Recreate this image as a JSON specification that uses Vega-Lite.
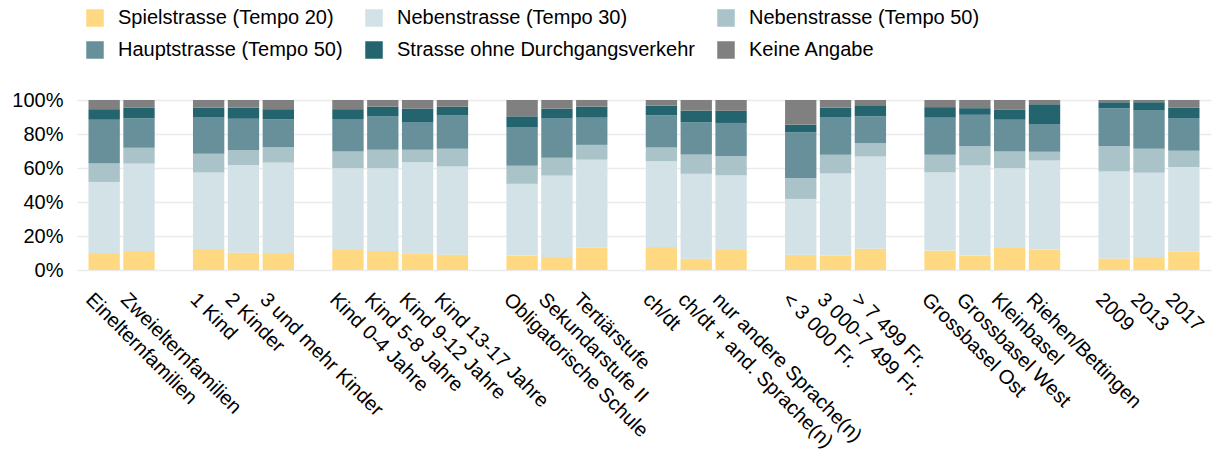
{
  "$schema": "https://vega.github.io/schema/vega-lite/v6.json",
  "autosize": {"type": "none"},
  "width": 1134,
  "height": 170,
  "padding": {"left": 77, "top": 100, "right": 6, "bottom": 194},
  "background": "white",
  "config": {
    "font": "Liberation Sans",
    "view": {"stroke": null}
  },
  "data": {
    "values": [
      {"k": "Einelternfamilien", "Spielstrasse (Tempo 20)": 10.0, "Nebenstrasse (Tempo 30)": 41.8, "Nebenstrasse (Tempo 50)": 10.8, "Hauptstrasse (Tempo 50)": 25.8, "Strasse ohne Durchgangsverkehr": 6.2, "Keine Angabe": 5.4},
      {"k": "Zweielternfamilien", "Spielstrasse (Tempo 20)": 11.2, "Nebenstrasse (Tempo 30)": 51.4, "Nebenstrasse (Tempo 50)": 9.3, "Hauptstrasse (Tempo 50)": 17.3, "Strasse ohne Durchgangsverkehr": 6.2, "Keine Angabe": 4.6},
      {"k": "1 Kind", "Spielstrasse (Tempo 20)": 12.3, "Nebenstrasse (Tempo 30)": 45.1, "Nebenstrasse (Tempo 50)": 11.0, "Hauptstrasse (Tempo 50)": 21.6, "Strasse ohne Durchgangsverkehr": 5.4, "Keine Angabe": 4.6},
      {"k": "2 Kinder", "Spielstrasse (Tempo 20)": 10.2, "Nebenstrasse (Tempo 30)": 51.5, "Nebenstrasse (Tempo 50)": 8.8, "Hauptstrasse (Tempo 50)": 18.5, "Strasse ohne Durchgangsverkehr": 6.4, "Keine Angabe": 4.6},
      {"k": "3 und mehr Kinder", "Spielstrasse (Tempo 20)": 10.0, "Nebenstrasse (Tempo 30)": 53.2, "Nebenstrasse (Tempo 50)": 9.1, "Hauptstrasse (Tempo 50)": 16.3, "Strasse ohne Durchgangsverkehr": 6.0, "Keine Angabe": 5.4},
      {"k": "Kind 0-4 Jahre", "Spielstrasse (Tempo 20)": 12.3, "Nebenstrasse (Tempo 30)": 47.6, "Nebenstrasse (Tempo 50)": 9.8, "Hauptstrasse (Tempo 50)": 19.1, "Strasse ohne Durchgangsverkehr": 5.8, "Keine Angabe": 5.4},
      {"k": "Kind 5-8 Jahre", "Spielstrasse (Tempo 20)": 11.2, "Nebenstrasse (Tempo 30)": 48.7, "Nebenstrasse (Tempo 50)": 10.8, "Hauptstrasse (Tempo 50)": 19.7, "Strasse ohne Durchgangsverkehr": 5.7, "Keine Angabe": 3.9},
      {"k": "Kind 9-12 Jahre", "Spielstrasse (Tempo 20)": 9.8, "Nebenstrasse (Tempo 30)": 53.6, "Nebenstrasse (Tempo 50)": 7.3, "Hauptstrasse (Tempo 50)": 16.4, "Strasse ohne Durchgangsverkehr": 7.9, "Keine Angabe": 5.0},
      {"k": "Kind 13-17 Jahre", "Spielstrasse (Tempo 20)": 8.9, "Nebenstrasse (Tempo 30)": 52.0, "Nebenstrasse (Tempo 50)": 10.4, "Hauptstrasse (Tempo 50)": 19.6, "Strasse ohne Durchgangsverkehr": 5.2, "Keine Angabe": 3.9},
      {"k": "Obligatorische Schule", "Spielstrasse (Tempo 20)": 8.5, "Nebenstrasse (Tempo 30)": 42.2, "Nebenstrasse (Tempo 50)": 10.6, "Hauptstrasse (Tempo 50)": 22.5, "Strasse ohne Durchgangsverkehr": 6.6, "Keine Angabe": 9.6},
      {"k": "Sekundarstufe II", "Spielstrasse (Tempo 20)": 7.7, "Nebenstrasse (Tempo 30)": 47.8, "Nebenstrasse (Tempo 50)": 10.6, "Hauptstrasse (Tempo 50)": 23.3, "Strasse ohne Durchgangsverkehr": 5.6, "Keine Angabe": 5.0},
      {"k": "Tertiärstufe", "Spielstrasse (Tempo 20)": 13.1, "Nebenstrasse (Tempo 30)": 51.8, "Nebenstrasse (Tempo 50)": 8.7, "Hauptstrasse (Tempo 50)": 16.0, "Strasse ohne Durchgangsverkehr": 6.5, "Keine Angabe": 3.9},
      {"k": "ch/dt", "Spielstrasse (Tempo 20)": 13.5, "Nebenstrasse (Tempo 30)": 50.5, "Nebenstrasse (Tempo 50)": 8.1, "Hauptstrasse (Tempo 50)": 19.0, "Strasse ohne Durchgangsverkehr": 5.6, "Keine Angabe": 3.3},
      {"k": "ch/dt + and. Sprache(n)", "Spielstrasse (Tempo 20)": 6.6, "Nebenstrasse (Tempo 30)": 50.0, "Nebenstrasse (Tempo 50)": 11.4, "Hauptstrasse (Tempo 50)": 18.9, "Strasse ohne Durchgangsverkehr": 6.9, "Keine Angabe": 6.2},
      {"k": "nur andere Sprache(n)", "Spielstrasse (Tempo 20)": 11.8, "Nebenstrasse (Tempo 30)": 43.9, "Nebenstrasse (Tempo 50)": 11.4, "Hauptstrasse (Tempo 50)": 19.4, "Strasse ohne Durchgangsverkehr": 7.1, "Keine Angabe": 6.4},
      {"k": "< 3 000 Fr.", "Spielstrasse (Tempo 20)": 8.9, "Nebenstrasse (Tempo 30)": 32.9, "Nebenstrasse (Tempo 50)": 12.3, "Hauptstrasse (Tempo 50)": 26.8, "Strasse ohne Durchgangsverkehr": 4.6, "Keine Angabe": 14.5},
      {"k": "3 000-7 499 Fr.", "Spielstrasse (Tempo 20)": 8.5, "Nebenstrasse (Tempo 30)": 48.3, "Nebenstrasse (Tempo 50)": 11.0, "Hauptstrasse (Tempo 50)": 22.2, "Strasse ohne Durchgangsverkehr": 5.4, "Keine Angabe": 4.6},
      {"k": "> 7 499 Fr.", "Spielstrasse (Tempo 20)": 12.5, "Nebenstrasse (Tempo 30)": 54.2, "Nebenstrasse (Tempo 50)": 7.9, "Hauptstrasse (Tempo 50)": 15.8, "Strasse ohne Durchgangsverkehr": 6.5, "Keine Angabe": 3.1},
      {"k": "Grossbasel Ost", "Spielstrasse (Tempo 20)": 11.4, "Nebenstrasse (Tempo 30)": 46.0, "Nebenstrasse (Tempo 50)": 10.4, "Hauptstrasse (Tempo 50)": 21.8, "Strasse ohne Durchgangsverkehr": 6.2, "Keine Angabe": 4.2},
      {"k": "Grossbasel West", "Spielstrasse (Tempo 20)": 8.5, "Nebenstrasse (Tempo 30)": 53.0, "Nebenstrasse (Tempo 50)": 11.3, "Hauptstrasse (Tempo 50)": 18.5, "Strasse ohne Durchgangsverkehr": 3.9, "Keine Angabe": 4.8},
      {"k": "Kleinbasel", "Spielstrasse (Tempo 20)": 13.5, "Nebenstrasse (Tempo 30)": 46.4, "Nebenstrasse (Tempo 50)": 9.8, "Hauptstrasse (Tempo 50)": 18.7, "Strasse ohne Durchgangsverkehr": 5.8, "Keine Angabe": 5.8},
      {"k": "Riehen/Bettingen", "Spielstrasse (Tempo 20)": 12.1, "Nebenstrasse (Tempo 30)": 52.3, "Nebenstrasse (Tempo 50)": 5.2, "Hauptstrasse (Tempo 50)": 16.3, "Strasse ohne Durchgangsverkehr": 11.6, "Keine Angabe": 2.5},
      {"k": "2009", "Spielstrasse (Tempo 20)": 6.7, "Nebenstrasse (Tempo 30)": 51.3, "Nebenstrasse (Tempo 50)": 15.0, "Hauptstrasse (Tempo 50)": 22.2, "Strasse ohne Durchgangsverkehr": 3.5, "Keine Angabe": 1.3},
      {"k": "2013", "Spielstrasse (Tempo 20)": 7.7, "Nebenstrasse (Tempo 30)": 49.5, "Nebenstrasse (Tempo 50)": 14.1, "Hauptstrasse (Tempo 50)": 22.5, "Strasse ohne Durchgangsverkehr": 4.9, "Keine Angabe": 1.3},
      {"k": "2017", "Spielstrasse (Tempo 20)": 11.0, "Nebenstrasse (Tempo 30)": 49.5, "Nebenstrasse (Tempo 50)": 9.6, "Hauptstrasse (Tempo 50)": 19.3, "Strasse ohne Durchgangsverkehr": 6.0, "Keine Angabe": 4.6}
    ]
  },
  "transform": [
    {"fold": ["Spielstrasse (Tempo 20)", "Nebenstrasse (Tempo 30)", "Nebenstrasse (Tempo 50)", "Hauptstrasse (Tempo 50)", "Strasse ohne Durchgangsverkehr", "Keine Angabe"], "as": ["typ", "val"]},
    {"calculate": "indexof(['Spielstrasse (Tempo 20)', 'Nebenstrasse (Tempo 30)', 'Nebenstrasse (Tempo 50)', 'Hauptstrasse (Tempo 50)', 'Strasse ohne Durchgangsverkehr', 'Keine Angabe'], datum.typ)", "as": "ord"}
  ],
  "mark": {"type": "bar"},
  "encoding": {
    "x": {
      "field": "k",
      "type": "nominal",
      "scale": {
        "domain": ["Einelternfamilien", "Zweielternfamilien", "_1", "1 Kind", "2 Kinder", "3 und mehr Kinder", "_2", "Kind 0-4 Jahre", "Kind 5-8 Jahre", "Kind 9-12 Jahre", "Kind 13-17 Jahre", "_3", "Obligatorische Schule", "Sekundarstufe II", "Tertiärstufe", "_4", "ch/dt", "ch/dt + and. Sprache(n)", "nur andere Sprache(n)", "_5", "< 3 000 Fr.", "3 000-7 499 Fr.", "> 7 499 Fr.", "_6", "Grossbasel Ost", "Grossbasel West", "Kleinbasel", "Riehen/Bettingen", "_7", "2009", "2013", "2017"],
        "paddingInner": 0.1,
        "paddingOuter": 0.33
      },
      "axis": {
        "title": null,
        "domain": false,
        "ticks": false,
        "labelAngle": 45,
        "labelFontSize": 20,
        "labelColor": "#000000",
        "labelPadding": 19,
        "labelOffset": -8,
        "labelLimit": 400,
        "labelOverlap": false,
        "labelExpr": "indexof(datum.label, '_') == 0 ? '' : datum.label"
      }
    },
    "y": {
      "field": "val",
      "type": "quantitative",
      "stack": "normalize",
      "scale": {"domain": [0, 1]},
      "axis": {
        "title": null,
        "domain": false,
        "ticks": false,
        "format": ".0%",
        "values": [0, 0.2, 0.4, 0.6, 0.8, 1],
        "labelFontSize": 20,
        "labelColor": "#000000",
        "labelPadding": 14,
        "gridColor": "#EBEBEB",
        "gridWidth": 1.5
      }
    },
    "order": {"field": "ord", "type": "quantitative", "sort": "ascending"},
    "color": {
      "field": "typ",
      "type": "nominal",
      "sort": ["Spielstrasse (Tempo 20)", "Nebenstrasse (Tempo 30)", "Nebenstrasse (Tempo 50)", "Hauptstrasse (Tempo 50)", "Strasse ohne Durchgangsverkehr", "Keine Angabe"],
      "scale": {
        "domain": ["Spielstrasse (Tempo 20)", "Nebenstrasse (Tempo 30)", "Nebenstrasse (Tempo 50)", "Hauptstrasse (Tempo 50)", "Strasse ohne Durchgangsverkehr", "Keine Angabe"],
        "range": ["#FFD982", "#D3E2E6", "#A9C3C9", "#67909A", "#24646F", "#808080"]
      },
      "legend": {
        "title": null,
        "orient": "none",
        "legendX": 8,
        "legendY": -92,
        "direction": "horizontal",
        "columns": 3,
        "symbolType": "square",
        "symbolSize": 306,
        "symbolStrokeWidth": 0,
        "symbolOpacity": 1,
        "labelFontSize": 20,
        "labelColor": "#000000",
        "labelOffset": 13,
        "labelLimit": 400,
        "rowPadding": 12,
        "columnPadding": 21
      }
    }
  }
}
